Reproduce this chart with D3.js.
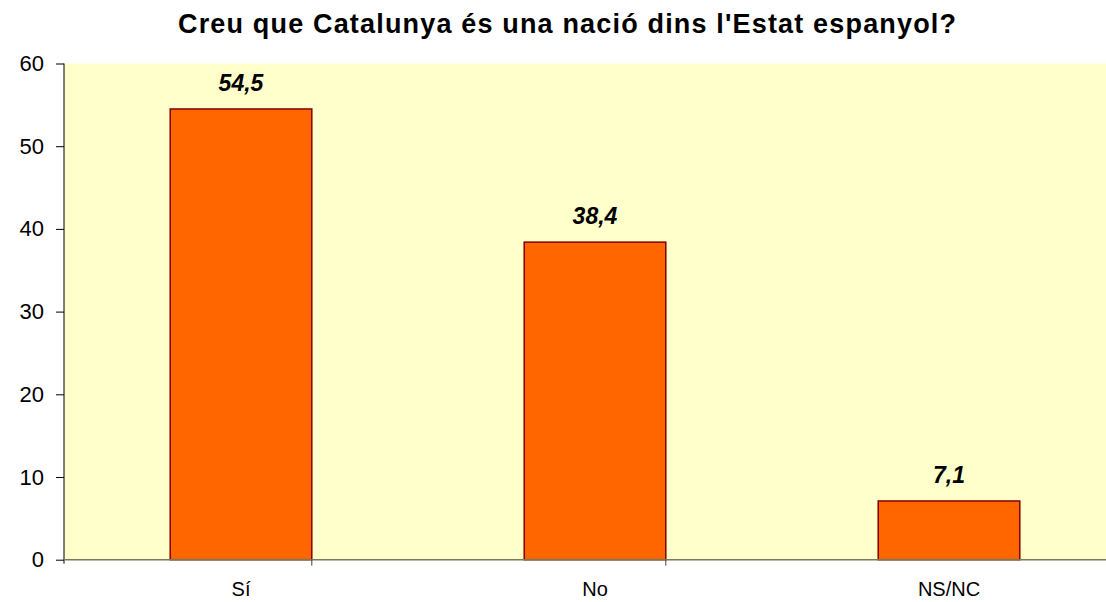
<!DOCTYPE html>
<html lang="ca">
<head>
  <meta charset="UTF-8">
  <title>Creu que Catalunya és una nació</title>
  <style>
    body { margin: 0; background: #fff; font-family: Arial, "Liberation Sans", sans-serif; }
    svg { display: block; }
  </style>
</head>
<body>
<script src="https://d3js.org/d3.v7.min.js"></script>
<script>
  // Data
  const categories = ['Sí', 'No', 'NS/NC'];
  const values = [54.5, 38.4, 7.1];
  const yTicks = [0, 10, 20, 30, 40, 50, 60];
  const title = "Creu que Catalunya és una nació dins l'Estat espanyol?";

  const width = 1106;
  const height = 602;
  // plot area runs past the right edge, like in the original
  const plot = { left: 64, top: 63.5, right: 1126, bottom: 559.7 };

  const svg = d3.select('body')
    .append('svg')
    .attr('width', width)
    .attr('height', height);

  const x = d3.scaleBand()
    .domain(categories)
    .range([plot.left, plot.right])
    .paddingInner(0.6)
    .paddingOuter(0.3);

  const y = d3.scaleLinear()
    .domain([0, 60])
    .range([plot.bottom, plot.top]);

  // background
  svg.append('rect')
    .attr('x', plot.left)
    .attr('y', plot.top)
    .attr('width', plot.right - plot.left)
    .attr('height', plot.bottom - plot.top)
    .attr('fill', '#ffffcc');

  // title
  svg.append('text')
    .attr('x', 567)
    .attr('y', 33)
    .attr('text-anchor', 'middle')
    .attr('textLength', 778)
    .attr('lengthAdjust', 'spacing')
    .style('font-size', '27px')
    .style('font-weight', 'bold')
    .text(title);

  // bars
  svg.selectAll('rect.bar')
    .data(values)
    .enter()
    .append('rect')
    .attr('class', 'bar')
    .attr('x', (d, i) => x(categories[i]))
    .attr('y', d => y(d))
    .attr('width', x.bandwidth())
    .attr('height', d => y(0) - y(d))
    .attr('fill', '#ff6600')
    .attr('stroke', '#800000')
    .attr('stroke-width', 1.5);

  // value labels
  svg.selectAll('text.val')
    .data(values)
    .enter()
    .append('text')
    .attr('class', 'val')
    .attr('x', (d, i) => x(categories[i]) + x.bandwidth() / 2)
    .attr('y', d => y(d) - 18)
    .attr('text-anchor', 'middle')
    .style('font-size', '23px')
    .style('font-weight', 'bold')
    .style('font-style', 'italic')
    .text(d => d.toFixed(1).replace('.', ','));

  // y axis
  const yAxis = svg.append('g')
    .attr('transform', 'translate(' + plot.left + ',0)')
    .call(d3.axisLeft(y).tickValues(yTicks).tickSize(8).tickPadding(12));
  yAxis.select('.domain').attr('stroke', '#000').attr('d', 'M0,' + plot.top + 'V' + (plot.bottom + 4));
  yAxis.selectAll('.tick line').attr('stroke', '#000');
  yAxis.selectAll('.tick text')
    .style('font-size', '22px')
    .style('font-family', 'Arial, "Liberation Sans", sans-serif')
    .attr('fill', '#000');

  // x axis
  const xAxis = svg.append('g')
    .attr('transform', 'translate(0,' + plot.bottom + ')');
  xAxis.append('line')
    .attr('x1', plot.left)
    .attr('x2', plot.right)
    .attr('stroke', '#7a7a5a')
    .attr('stroke-width', 1.5);
  // category separators
  const seps = d3.range(1, categories.length).map(i => x(categories[i]) - x.step() * x.paddingInner());
  xAxis.selectAll('line.sep')
    .data(seps)
    .enter()
    .append('line')
    .attr('class', 'sep')
    .attr('x1', d => d).attr('x2', d => d)
    .attr('y1', 0).attr('y2', 6)
    .attr('stroke', '#444');
  xAxis.selectAll('text')
    .data(categories)
    .enter()
    .append('text')
    .attr('x', d => x(d) + x.bandwidth() / 2)
    .attr('y', 36)
    .attr('text-anchor', 'middle')
    .style('font-size', '20px')
    .text(d => d);
</script>
</body>
</html>
